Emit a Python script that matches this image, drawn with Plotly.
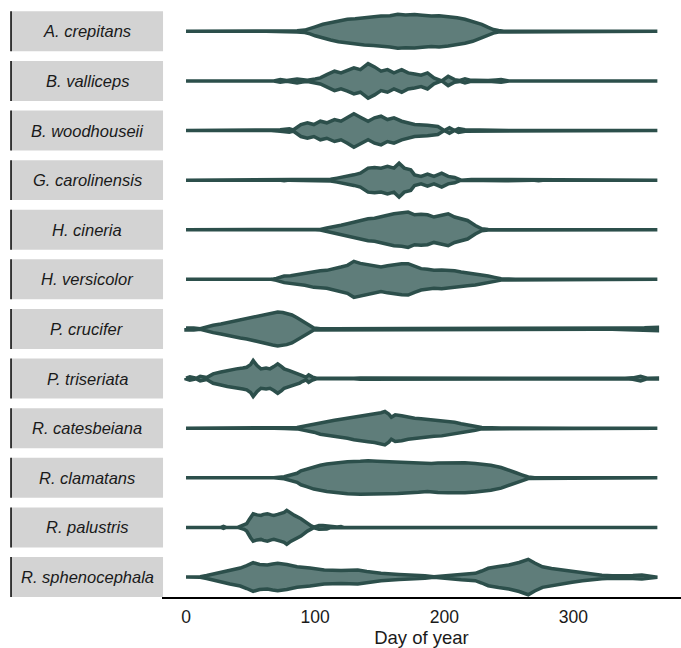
import plotly.graph_objects as go

# ---------------- data (day of year, relative density) -------------
species = ["A. crepitans", "B. valliceps", "B. woodhouseii", "G. carolinensis",
           "H. cineria", "H. versicolor", "P. crucifer", "P. triseriata",
           "R. catesbeiana", "R. clamatans", "R. palustris", "R. sphenocephala"]

crepitans_days = [0, 62, 70, 78, 86, 92, 96, 100, 106, 112, 118, 125, 131, 138, 145, 151, 158, 164, 170, 177, 183, 190, 196, 203, 210, 216, 222, 229, 234, 238, 242, 246, 365]
crepitans_dens = [0, 0, 0.4, 0.3, 0.6, 1.2, 2.5, 4.5, 7, 8.7, 10.5, 12, 12.6, 13.7, 14.3, 15.3, 15.6, 17, 16.4, 16.7, 16, 15.3, 15.6, 14.7, 13.5, 12, 10, 7, 4, 1.8, 0.8, 0, 0]

valliceps_days = [0, 68, 73, 78, 86, 90, 94, 100, 104, 109, 115, 120, 125, 130, 135, 141, 146, 151, 156, 161, 167, 172, 177, 182, 187, 192, 198, 203, 208, 212, 216, 220, 224, 234, 240, 244, 250, 365]
valliceps_dens = [0, 0, 1.3, 0.4, 2, 1, 0.7, 2, 3, 6.3, 9.7, 8, 10.3, 13, 11.3, 17.3, 14, 9.7, 11.3, 8, 11.3, 8, 7, 5.7, 8, 3, 0, 4.7, 1.3, 0.5, 2, 0.6, 0.7, 0.3, 1, 1.3, 0, 0]

woodhouseii_days = [0, 66, 73, 80, 83, 89, 94, 99, 104, 109, 115, 120, 125, 130, 135, 141, 146, 151, 156, 161, 167, 172, 177, 187, 195, 200, 204, 208, 211, 216, 229, 244, 250, 365]
woodhouseii_dens = [0, 0, 0.7, 1.8, 0.5, 6, 7.7, 6, 9.3, 7.7, 11, 9.3, 12.7, 16.7, 13.3, 9.3, 12.7, 14.3, 11, 12.7, 9.3, 7.7, 6, 5.3, 4, 0, 2.7, 0, 2, 0.7, 0.3, 0.3, 0, 0]

carolinensis_days = [0, 72, 76, 80, 95, 99, 103, 107, 112, 117, 125, 130, 135, 141, 146, 151, 156, 161, 165, 169, 174, 177, 182, 187, 192, 198, 203, 208, 213, 221, 237, 247, 268, 273, 278, 365]
carolinensis_dens = [0, 0, 0.6, 0, 0, 0.6, 0.2, 0.6, 0.8, 2, 3.7, 5.3, 7, 12, 12.7, 12, 13.7, 12, 17, 12, 10.3, 5.3, 3.7, 6, 3.7, 7, 3.7, 2.7, 0, 0.7, 0.7, 0.7, 0, 0.6, 0, 0]

cineria_days = [0, 100, 104, 109, 115, 120, 125, 130, 135, 141, 146, 151, 156, 161, 167, 172, 177, 182, 187, 192, 198, 203, 208, 213, 218, 224, 229, 234, 239, 365]
cineria_dens = [0, 0, 0.3, 1.7, 3.7, 4.5, 6, 7.5, 9.3, 11, 11.5, 12.7, 14.5, 16, 16.5, 17.7, 15, 15.5, 15, 12.7, 14.5, 16, 12.7, 11, 9.3, 4.3, 1, 0.3, 0, 0]

versicolor_days = [0, 66, 70, 76, 81, 86, 92, 99, 104, 109, 115, 120, 125, 130, 135, 141, 146, 151, 156, 161, 167, 172, 177, 182, 187, 192, 198, 203, 208, 213, 218, 224, 229, 234, 239, 244, 250, 255, 270, 275, 280, 365]
versicolor_dens = [0, 0, 1, 3.3, 3.5, 4.7, 6, 8, 8.5, 9, 10.5, 12.3, 14, 18, 16, 14.7, 13.5, 12.3, 13.5, 14.7, 15.5, 15.7, 13, 10.7, 10, 9, 9.3, 9, 8.5, 7.3, 6.5, 5.7, 4.5, 3.3, 2, 0.7, 0.3, 0, 0, 0.4, 0, 0]

crucifer_days = [0, 3, 6, 11, 16, 21, 27, 32, 37, 42, 47, 52, 58, 63, 67, 71, 75, 78, 82, 86, 90, 94, 97, 99, 104, 110, 115, 172, 317, 330, 343, 355, 365]
crucifer_dens = [1, 1.2, 1, 0.3, 2.3, 3.7, 5, 6.3, 7.5, 9, 10, 11.3, 13, 14.7, 16, 17, 16.5, 15.7, 14, 11.3, 8, 4.7, 2.5, 1, 0.3, 0.6, 0.3, 0.4, 0.3, 0.4, 1, 1.2, 1.7]

triseriata_days = [0, 3, 8, 11, 16, 21, 27, 32, 39, 44, 47, 50, 52, 55, 58, 62, 65, 68, 71, 74, 76, 80, 84, 88, 90, 93, 95, 98, 101, 130, 135, 340, 346, 352, 357, 365]
triseriata_dens = [0.5, 1.7, 0.3, 2.3, 1, 4.7, 6.5, 8, 9.7, 10.5, 11.3, 14, 18, 13, 9.7, 10.5, 9.7, 12, 14.7, 12, 9.7, 8, 6.3, 4.5, 3, 1.3, 3.7, 1.5, 0.3, 0.3, 0.6, 0.3, 0.7, 2.3, 0.3, 0.5]

catesbeiana_days = [0, 68, 76, 86, 94, 99, 104, 110, 115, 120, 125, 130, 135, 141, 146, 151, 154, 157, 159, 162, 167, 172, 177, 182, 187, 192, 198, 203, 208, 213, 218, 224, 229, 244, 260, 265, 280, 296, 300, 365]
catesbeiana_dens = [0, 0, 0.3, 0.7, 2.7, 4, 6, 7, 8, 9, 10, 11.5, 12.7, 13.5, 14.3, 15.5, 16.7, 14, 11, 13.3, 12.5, 11, 10, 9.5, 8.7, 8, 7.7, 7, 6, 4.5, 3.3, 2, 0.7, 0.3, 0.4, 0.3, 0.3, 0.3, 0, 0]

clamatans_days = [0, 68, 76, 81, 86, 89, 94, 99, 104, 109, 115, 125, 135, 141, 148, 156, 164, 172, 180, 187, 190, 195, 203, 208, 216, 224, 229, 236, 244, 250, 255, 260, 265, 270, 365]
clamatans_dens = [0, 0, 1, 2.7, 4.5, 7, 9, 11.3, 12.5, 13.7, 14.8, 16, 16.5, 17, 16.5, 16, 15.8, 15.3, 14.5, 13.7, 14.2, 14.7, 15, 15.3, 15, 14.2, 13.7, 12.5, 10.3, 8, 5.3, 3, 0.8, 0, 0]

palustris_days = [0, 27, 29, 31, 40, 42, 45, 47, 49, 50, 52, 55, 58, 60, 63, 66, 68, 71, 73, 76, 78, 81, 84, 89, 94, 97, 99, 103, 106, 109, 112, 117, 120, 122, 365]
palustris_dens = [0, 0, 1, 0, 0, 1, 2, 3.7, 8, 10.3, 13.7, 12.5, 12, 13, 13.7, 12.5, 12, 13, 13.7, 15, 17, 14, 12, 8.7, 3.7, 1.5, 0.3, 1.8, 2, 1.5, 0.3, 0.3, 0.8, 0, 0]

sphenocephala_days = [0, 11, 16, 21, 28, 34, 42, 47, 52, 57, 63, 67, 71, 78, 86, 96, 107, 120, 133, 140, 151, 165, 177, 185, 192, 198, 203, 213, 224, 229, 234, 242, 250, 258, 265, 270, 276, 283, 291, 299, 307, 315, 322, 330, 338, 346, 353, 358, 365]
sphenocephala_dens = [0, 0.3, 1.5, 3, 5, 7, 9, 11.5, 14.3, 12.5, 12, 13, 13.7, 12.5, 10.3, 9, 7, 6.5, 7, 5.5, 3.7, 2.5, 2, 1.2, 0.3, 1, 2, 2.8, 3.7, 6, 8.7, 10.5, 12, 14.5, 17.7, 14, 10.3, 8.5, 7, 5.3, 3.7, 2.5, 1.7, 1.3, 1, 1.5, 2, 1.2, 0.3]

x_ticks = [0, 100, 200, 300]
x_title = "Day of year"

series = [
    (crepitans_days, crepitans_dens), (valliceps_days, valliceps_dens),
    (woodhouseii_days, woodhouseii_dens), (carolinensis_days, carolinensis_dens),
    (cineria_days, cineria_dens), (versicolor_days, versicolor_dens),
    (crucifer_days, crucifer_dens), (triseriata_days, triseriata_dens),
    (catesbeiana_days, catesbeiana_dens), (clamatans_days, clamatans_dens),
    (palustris_days, palustris_dens), (sphenocephala_days, sphenocephala_dens),
]

# ---------------- style ----------------
LINE_COLOR = "#2c4f4b"
FILL_COLOR = "#5f7d7a"
STRIP_COLOR = "#d3d3d3"
SCALE = 1 / 49.6          # density -> half-width (y units)
STRIP_HALF = 0.403
FONT = "Liberation Sans, Arial, sans-serif"
n = len(species)

fig = go.Figure()
shapes = []
annotations = []
for i, (name, (d, w)) in enumerate(zip(species, series)):
    yc = n - 1 - i
    xs = list(d) + list(reversed(d)) + [d[0]]
    ys = [yc + v * SCALE for v in w] + [yc - v * SCALE for v in reversed(w)] + [yc + w[0] * SCALE]
    fig.add_trace(go.Scatter(x=xs, y=ys, mode="lines", fill="toself",
                             fillcolor=FILL_COLOR,
                             line=dict(color=LINE_COLOR, width=3.5),
                             hoverinfo="skip", showlegend=False))
    shapes.append(dict(type="rect", xref="paper", yref="y",
                       x0=-0.2909, x1=0.002, y0=yc - STRIP_HALF, y1=yc + STRIP_HALF,
                       fillcolor=STRIP_COLOR, line=dict(width=0), layer="below"))
    shapes.append(dict(type="line", xref="paper", yref="y",
                       x0=-0.2909, x1=-0.2909, y0=yc - STRIP_HALF, y1=yc + STRIP_HALF,
                       line=dict(color="black", width=1.5)))
    annotations.append(dict(xref="paper", yref="y", x=-0.1445, y=yc,
                            text=f"<i>{name}</i>", showarrow=False,
                            xanchor="center", yanchor="middle",
                            font=dict(family=FONT, size=16.5, color="#1a1a1a")))

fig.update_layout(
    width=681, height=648,
    margin=dict(l=162, r=0, t=0, b=51),
    paper_bgcolor="white", plot_bgcolor="white",
    shapes=shapes, annotations=annotations,
    font=dict(family=FONT, color="#1a1a1a"),
    xaxis=dict(range=[-18.6, 383.3], tickvals=x_ticks, showgrid=False, zeroline=False,
               showline=True, linecolor="black", linewidth=1.6, ticks="",
               ticklabelstandoff=3,
               tickfont=dict(family=FONT, size=17.5, color="#1a1a1a"),
               title=dict(text=x_title, font=dict(family=FONT, size=18.5, color="#1a1a1a"),
                          standoff=4)),
    yaxis=dict(range=[-0.403, 11.631], visible=False, fixedrange=True),
)

fig.write_html("out.html", config={"displayModeBar": False},
               post_script="document.body.style.margin='0';document.body.style.overflow='hidden';")
